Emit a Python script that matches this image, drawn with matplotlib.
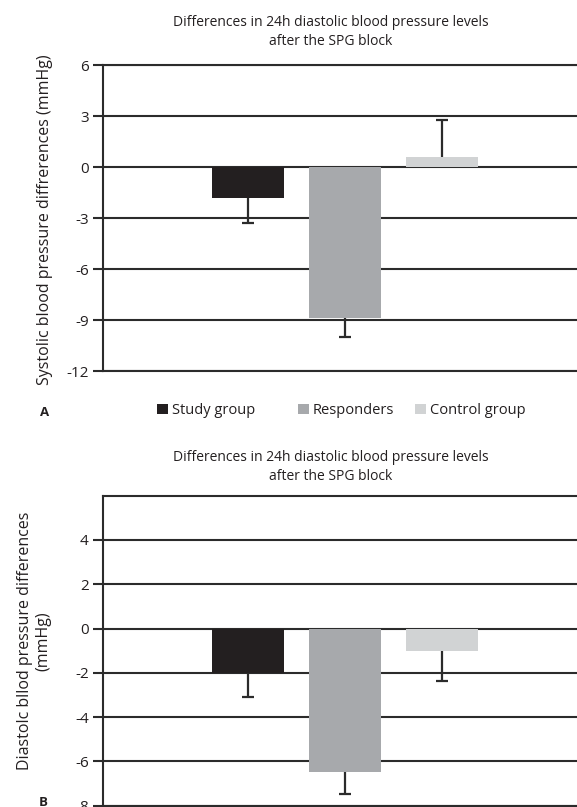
import numpy as np
import matplotlib
matplotlib.use('Agg')
from matplotlib import pyplot as plt

plt.rcParams['font.family'] = ['Open Sans', 'DejaVu Sans']

groups = ['Study group', 'Responders', 'Control group']
colors = ['#231f20', '#a7a9ac', '#d1d3d4']

# panel A: systolic differences (mmHg), bar value and end of error bar
sys_vals = [-1.8, -8.85, 0.63]
sys_err_end = [-3.3, -10.0, 2.8]

# panel B: diastolic differences (mmHg)
dia_vals = [-2.0, -6.5, -1.0]
dia_err_end = [-3.1, -7.45, -2.35]

title = 'Differences in 24h diastolic blood pressure levels\nafter the SPG block'

W, H = 577, 807
fig = plt.figure(figsize=(W / 100, H / 100), dpi=100)

line_c = '#2b2b2b'
x = np.arange(3)


def panel(ax, vals, err_end, ylim, ticks):
    ax.set_axisbelow(True)
    bars = []
    for i in range(3):
        b = ax.bar(x[i], vals[i], width=0.74, color=colors[i], label=groups[i], zorder=2)
        bars.append(b)
    ax.vlines(x, vals, err_end, color=line_c, lw=1.6, zorder=3)
    ax.hlines(err_end, x - 0.065, x + 0.065, color=line_c, lw=1.6, zorder=3)
    ax.set_xlim(-1.499, 3.392)
    ax.set_ylim(*ylim)
    ax.set_yticks(ticks)
    ax.set_yticklabels([str(t) for t in ticks])
    ax.set_xticks([])
    ax.yaxis.grid(True, color=line_c, lw=1.5)
    for s in ['left', 'top', 'bottom']:
        ax.spines[s].set_color(line_c)
        ax.spines[s].set_linewidth(1.5)
    ax.spines['right'].set_visible(False)
    ax.tick_params(axis='y', length=7, width=1.5, color=line_c, pad=3,
                   labelsize=11, labelcolor='#231f20')
    return bars


# panel A
axA = fig.add_axes([102.6 / W, 1 - 371.3 / H, 1 - 102.6 / W, (371.3 - 65.3) / H])
bars = panel(axA, sys_vals, sys_err_end, (-12, 6), list(range(-12, 7, 3)))

# panel B
axB = fig.add_axes([102.6 / W, 1 - 805.7 / H, 1 - 102.6 / W, (805.7 - 495.7) / H])
panel(axB, dia_vals, dia_err_end, (-8, 6), list(range(-8, 5, 2)))

# titles
fig.text(331 / W, 1 - 32 / H, title, ha='center', va='center', fontsize=10,
         color='#231f20', linespacing=1.3)
fig.text(331 / W, 1 - 467 / H, title, ha='center', va='center', fontsize=10,
         color='#231f20', linespacing=1.3)

# y labels
fig.text(45 / W, 1 - 220 / H, 'Systolic blood pressure diffrerences (mmHg)',
         rotation=90, ha='center', va='center', fontsize=11.5, color='#231f20')
fig.text(34 / W, 1 - 641 / H, 'Diastolc bllod pressure differences\n(mmHg)',
         rotation=90, ha='center', va='center', fontsize=11.5, color='#231f20',
         linespacing=1.2)

# panel letters
fig.text(45 / W, 1 - 413 / H, 'A', ha='center', va='center', fontsize=9.5,
         fontweight='bold', color='#231f20')
fig.text(43 / W, 1 - 802 / H, 'B', ha='center', va='center', fontsize=9.5,
         fontweight='bold', color='#231f20')

# legend, one entry each at its own place
leg_x = [157, 298, 415]
for i in range(3):
    leg = fig.legend(handles=[bars[i]], labels=[groups[i]], loc='center left',
                     bbox_to_anchor=(leg_x[i] / W, 1 - 410.5 / H), frameon=False,
                     fontsize=10.5, handlelength=0.75, handleheight=0.75,
                     handletextpad=0.25, borderpad=0, borderaxespad=0,
                     labelcolor='#231f20')

fig.savefig('out.png', dpi=100)
